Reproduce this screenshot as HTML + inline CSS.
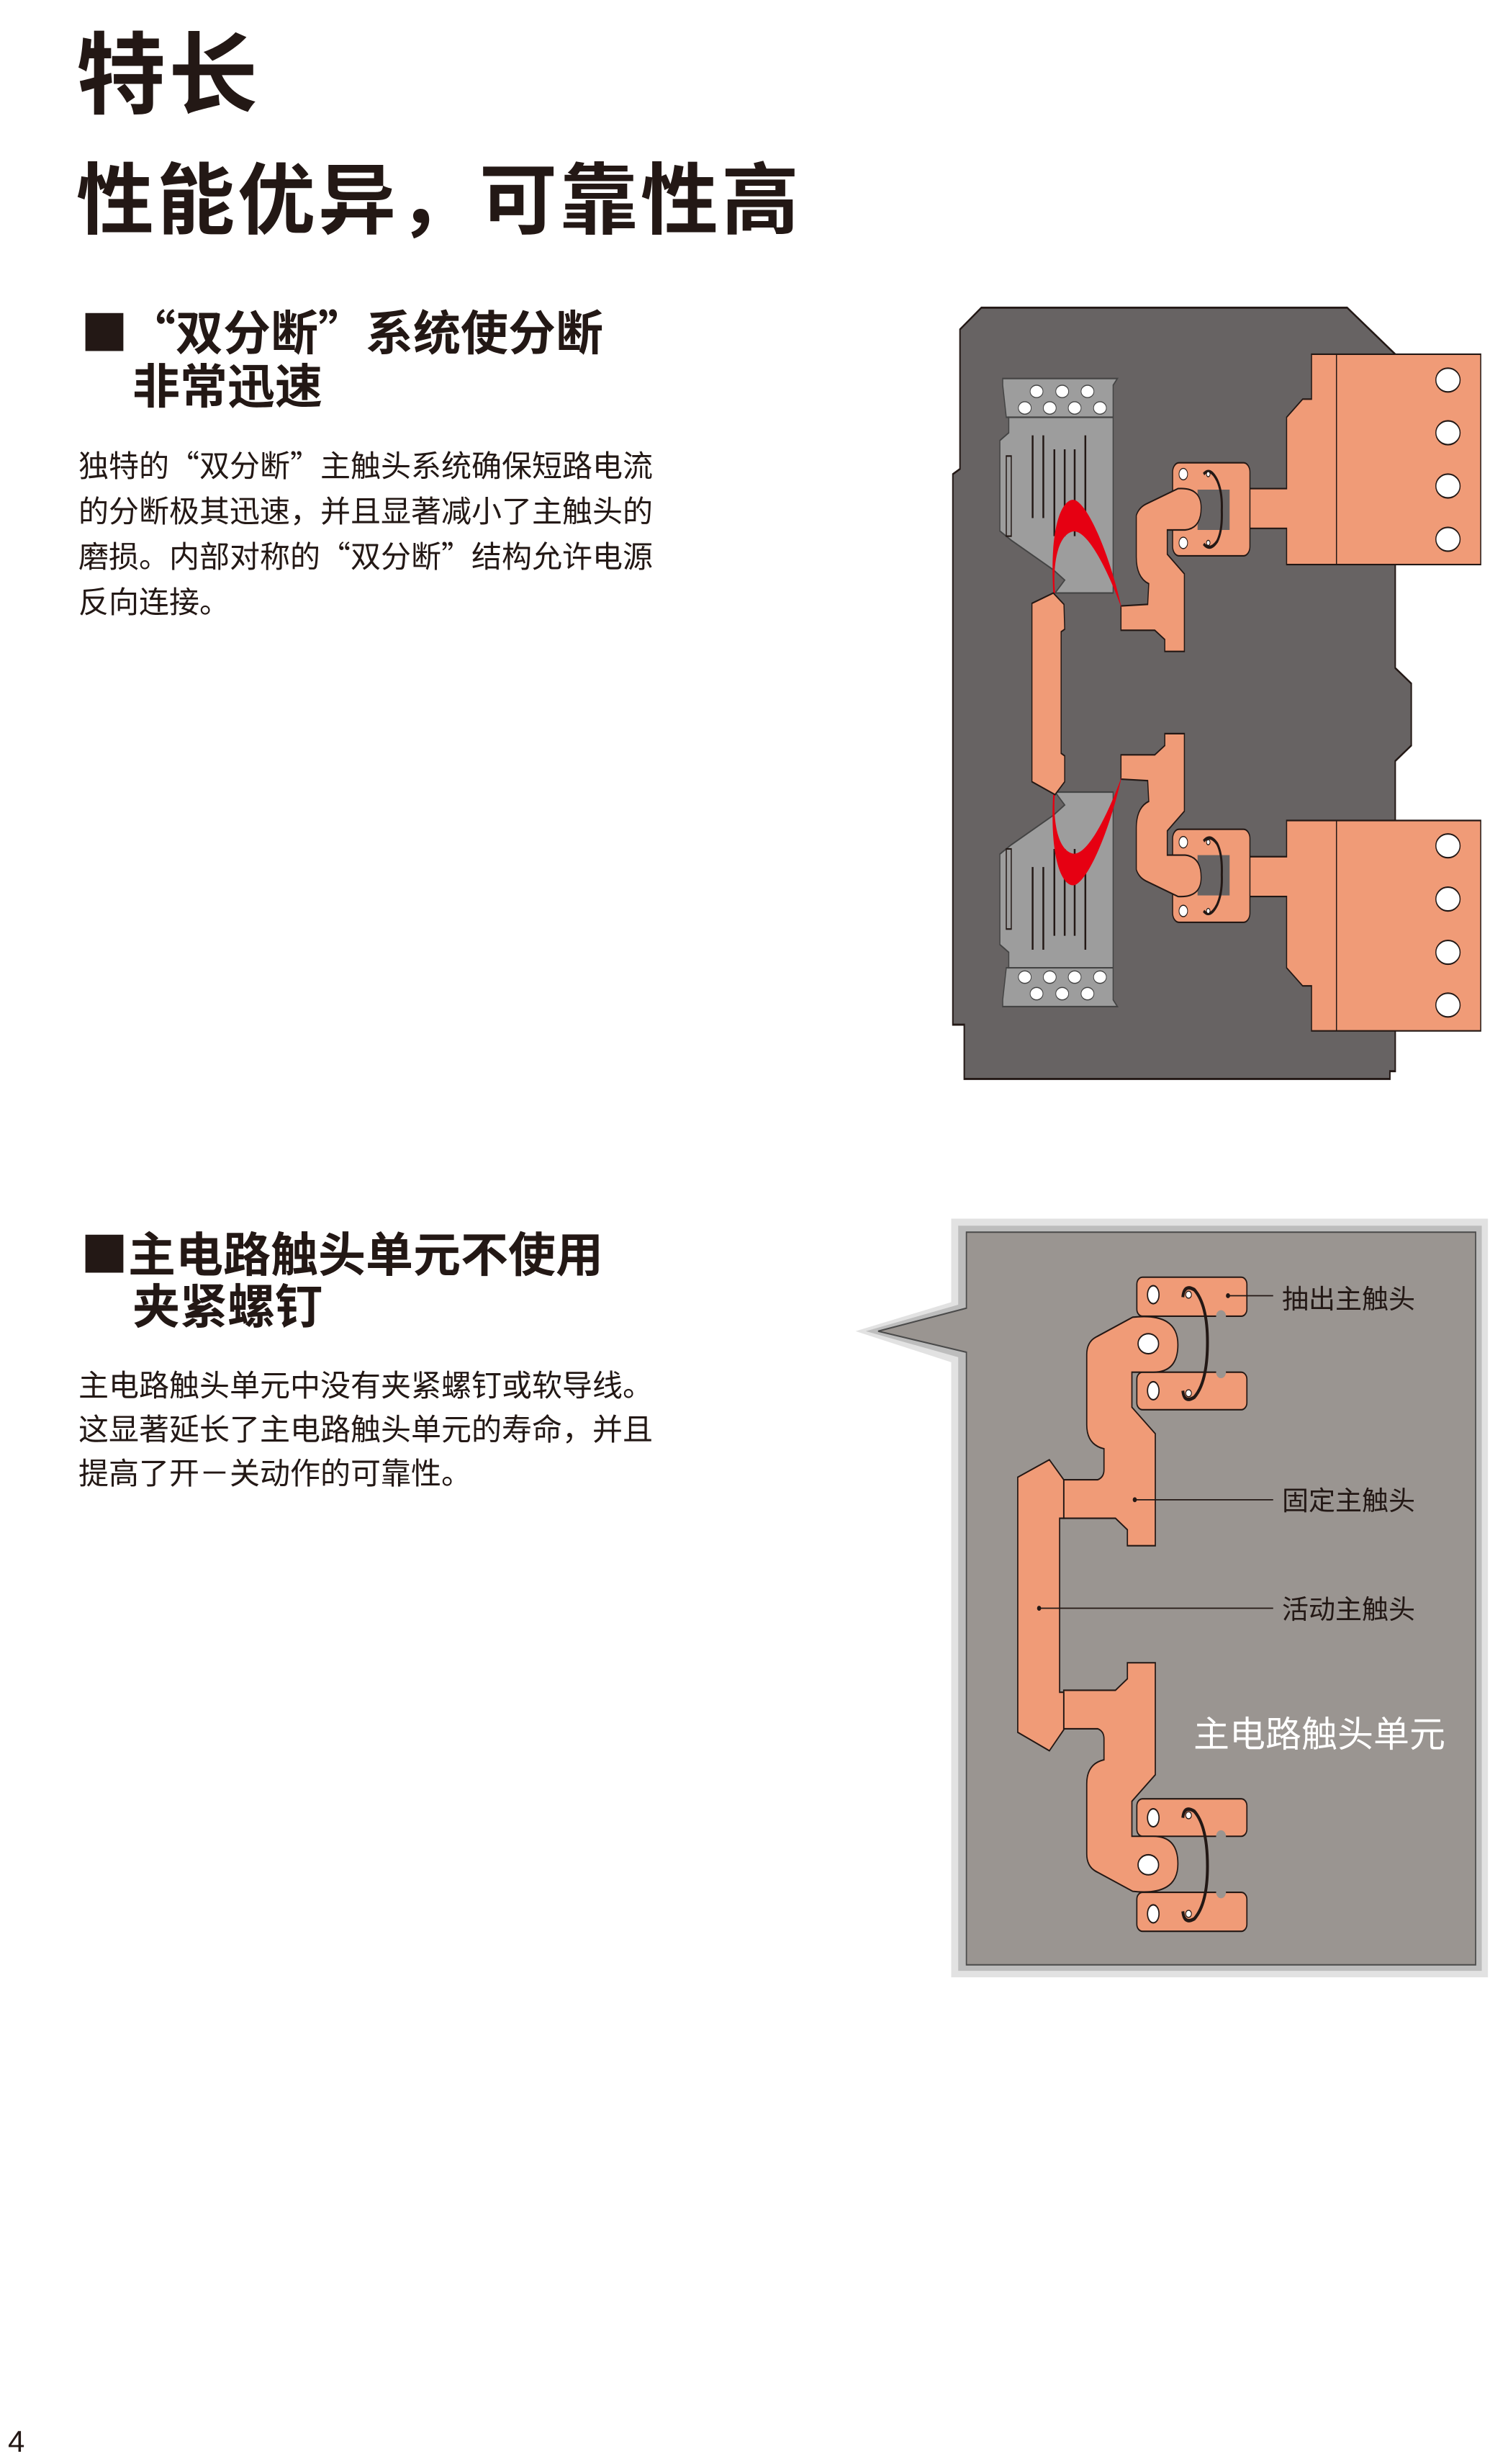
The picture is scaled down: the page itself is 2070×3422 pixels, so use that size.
<!DOCTYPE html>
<html><head><meta charset="utf-8">
<style>
html,body{margin:0;padding:0;background:#fff;}
body{width:2070px;height:3422px;position:relative;overflow:hidden;font-family:"Noto Sans CJK SC","Liberation Sans",sans-serif;color:#231815;}
.t{position:absolute;white-space:nowrap;}
.b{font-weight:bold;}
</style></head><body>
<div class="t b" style="left:106px;top:24px;font-size:124px;line-height:140px;letter-spacing:4px;">特长</div>
<div class="t b" style="left:106px;top:208px;font-size:108px;line-height:124px;letter-spacing:4px;">性能优异，可靠性高</div>

<div class="t b" style="left:112px;top:419px;font-size:66px;line-height:78px;">■“双分断”系统使分断</div>
<div class="t b" style="left:184px;top:493px;font-size:66px;line-height:78px;">非常迅速</div>
<div class="t" style="left:109px;top:613px;font-size:42px;line-height:63px;">独特的“双分断”主触头系统确保短路电流<br>的分断极其迅速，并且显著减小了主触头的<br>磨损。内部对称的“双分断”结构允许电源<br>反向连接。</div>

<div class="t b" style="left:112px;top:1699px;font-size:66px;line-height:78px;">■主电路触头单元不使用</div>
<div class="t b" style="left:184px;top:1771px;font-size:66px;line-height:78px;">夹紧螺钉</div>
<div class="t" style="left:109px;top:1891px;font-size:42px;line-height:61px;">主电路触头单元中没有夹紧螺钉或软导线。<br>这显著延长了主电路触头单元的寿命，并且<br>提高了开－关动作的可靠性。</div>

<div class="t" style="left:11px;top:3366px;font-size:42px;line-height:50px;font-family:'Liberation Sans',sans-serif;">4</div>

<!-- Diagram 1 -->
<svg style="position:absolute;left:1300px;top:400px;" width="770" height="1120" viewBox="0 0 1556 1560" preserveAspectRatio="none">
<defs>
<g id="half1">
  <path d="M1055,128 L1530,128 L1530,535 L985,535 L985,465 L822,465 L822,388 L985,388 L985,250 L1030,215 L1055,215 Z" fill="#f09b77" stroke="#231815" stroke-width="3"/>
  <line x1="1125" y1="128" x2="1125" y2="535" stroke="#231815" stroke-width="3"/>
  <ellipse cx="1438" cy="178" rx="34" ry="23" fill="#fff" stroke="#231815" stroke-width="3"/>
  <ellipse cx="1438" cy="280" rx="34" ry="23" fill="#fff" stroke="#231815" stroke-width="3"/>
  <ellipse cx="1438" cy="383" rx="34" ry="23" fill="#fff" stroke="#231815" stroke-width="3"/>
  <ellipse cx="1438" cy="486" rx="34" ry="23" fill="#fff" stroke="#231815" stroke-width="3"/>
  <rect x="665" y="338" width="217" height="180" rx="18" fill="#f09b77" stroke="#231815" stroke-width="3"/>
  <rect x="735" y="390" width="90" height="78" fill="#676363"/>
  <ellipse cx="695" cy="360" rx="12" ry="11" fill="#fff" stroke="#231815" stroke-width="2"/>
  <ellipse cx="695" cy="493" rx="12" ry="11" fill="#fff" stroke="#231815" stroke-width="2"/>
  <path d="M752,360 Q770,345 790,372 Q805,395 803,430 Q805,470 790,490 Q770,510 752,495" fill="none" stroke="#231815" stroke-width="6"/>
  <circle cx="765" cy="360" r="5" fill="#fff" stroke="#231815" stroke-width="2"/>
  <circle cx="765" cy="493" r="5" fill="#fff" stroke="#231815" stroke-width="2"/>
  <path d="M520,615 L595,612 L598,572 Q563,560 563,520 L563,440 Q570,425 590,418 L680,388 Q745,385 745,425 Q745,465 700,468 L650,468 L650,515 L698,553 L698,703 L643,703 L643,680 L615,662 L520,662 Z" fill="#f09b77" stroke="#231815" stroke-width="3"/>
  <polygon points="188,175 510,175 498,188 498,590 335,590 362,565 330,545 212,488 180,470 180,295 205,280 205,250 198,250 188,188" fill="#9d9d9d" stroke="#444" stroke-width="3"/>
  <line x1="205" y1="250" x2="498" y2="250" stroke="#444" stroke-width="3"/>
  <rect x="198" y="325" width="14" height="155" fill="#9d9d9d" stroke="#231815" stroke-width="3"/>
  <g stroke="#231815" stroke-width="5">
    <line x1="272" y1="285" x2="272" y2="445"/><line x1="302" y1="285" x2="302" y2="445"/>
    <line x1="333" y1="312" x2="333" y2="480"/><line x1="362" y1="312" x2="362" y2="480"/>
    <line x1="390" y1="312" x2="390" y2="480"/><line x1="420" y1="285" x2="420" y2="445"/>
  </g>
  <g fill="#fff" stroke="#444" stroke-width="2">
    <ellipse cx="283" cy="200" rx="18" ry="12"/><ellipse cx="355" cy="200" rx="18" ry="12"/><ellipse cx="426" cy="200" rx="18" ry="12"/>
    <ellipse cx="250" cy="232" rx="18" ry="12"/><ellipse cx="320" cy="232" rx="18" ry="12"/><ellipse cx="390" cy="232" rx="18" ry="12"/><ellipse cx="461" cy="232" rx="18" ry="12"/>
  </g>
  <path d="M330,590 C318,450 360,405 390,410 C430,420 490,520 522,620 C480,540 420,460 380,472 C340,482 328,540 335,590 Z" fill="#e60012"/>
</g>
</defs>
<polygon points="128,38 1155,38 1290,128 1290,735 1335,765 1335,885 1290,915 1290,1515 1275,1515 1275,1530 80,1530 80,1425 48,1425 48,360 68,350 68,80" fill="#676363" stroke="#231815" stroke-width="4"/>
<use href="#half1"/>
<use href="#half1" transform="matrix(1,0,0,-1,0,1565)"/>
<polygon points="270,610 330,590 360,612 362,660 352,665 352,900 362,905 362,955 335,980 270,955" fill="#f09b77" stroke="#231815" stroke-width="3"/>
</svg>

<!-- Diagram 2 -->
<svg style="position:absolute;left:1180px;top:1680px;" width="890" height="1080" viewBox="0 0 1560 1555" preserveAspectRatio="none">
<defs>
<g id="half2">
  <rect x="700" y="135" width="268" height="78" rx="14" fill="#f09b77" stroke="#231815" stroke-width="3"/>
  <rect x="700" y="325" width="268" height="75" rx="14" fill="#f09b77" stroke="#231815" stroke-width="3"/>
  <circle cx="905" cy="213" r="12" fill="#9a9591"/>
  <circle cx="905" cy="325" r="12" fill="#9a9591"/>
  <ellipse cx="740" cy="170" rx="14" ry="18" fill="#fff" stroke="#231815" stroke-width="3"/>
  <ellipse cx="740" cy="362" rx="14" ry="18" fill="#fff" stroke="#231815" stroke-width="3"/>
  <path d="M812,175 Q815,148 840,160 Q872,190 872,265 Q872,345 840,375 Q815,388 812,362" fill="none" stroke="#231815" stroke-width="7"/>
  <circle cx="826" cy="170" r="7" fill="#fff" stroke="#231815" stroke-width="2"/>
  <circle cx="826" cy="367" r="7" fill="#fff" stroke="#231815" stroke-width="2"/>
  <path d="M522,540 L605,540 Q620,535 620,520 L620,478 Q578,470 578,430 L578,290 Q578,265 600,255 L690,215 Q800,205 800,270 Q800,325 740,325 L688,325 L688,395 L745,448 L745,672 L677,672 L677,640 L648,617 L522,617 Z" fill="#f09b77" stroke="#231815" stroke-width="3"/>
  <ellipse cx="728" cy="268" rx="25" ry="20" fill="#fff" stroke="#231815" stroke-width="3"/>
</g>
</defs>
<polygon points="248,18 1555,18 1555,1535 248,1535 248,305 15,243 248,185" fill="#e2e2e2"/>
<polygon points="265,32 1540,32 1540,1522 265,1522 265,295 40,243 265,190" fill="#bdbdbd"/>
<polygon points="285,45 1525,45 1525,1510 285,1510 285,285 70,243 285,197" fill="#9a9591" stroke="#4a4a4a" stroke-width="3"/>
<use href="#half2"/>
<use href="#half2" transform="matrix(1,0,0,-1,0,1578)"/>
<polygon points="410,535 487,500 522,540 522,617 512,617 512,965 522,965 522,1040 487,1082 410,1045" fill="#f09b77" stroke="#231815" stroke-width="3"/>
<line x1="522" y1="540" x2="522" y2="617" stroke="#231815" stroke-width="3"/>
<line x1="522" y1="965" x2="522" y2="1040" stroke="#231815" stroke-width="3"/>
<g stroke="#231815" stroke-width="2.5">
  <line x1="922" y1="172" x2="1032" y2="172"/>
  <line x1="695" y1="580" x2="1032" y2="580"/>
  <line x1="462" y1="797" x2="1032" y2="797"/>
</g>
<circle cx="922" cy="172" r="5" fill="#231815"/>
<circle cx="695" cy="580" r="5" fill="#231815"/>
<circle cx="462" cy="797" r="5" fill="#231815"/>
</svg>
<div class="t" style="left:1781px;top:1776px;font-size:37px;line-height:50px;">抽出主触头</div>
<div class="t" style="left:1781px;top:2056px;font-size:37px;line-height:50px;">固定主触头</div>
<div class="t" style="left:1781px;top:2207px;font-size:37px;line-height:50px;">活动主触头</div>
<div class="t" style="left:1658px;top:2372px;font-size:50px;line-height:66px;color:#fff;">主电路触头单元</div>
</body></html>
